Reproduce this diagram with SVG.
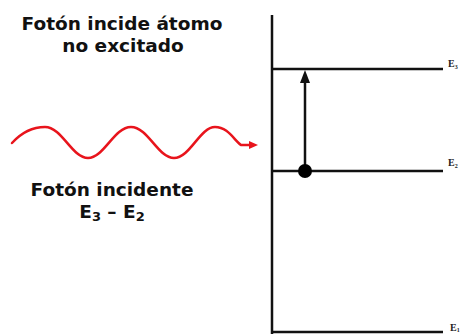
<svg xmlns="http://www.w3.org/2000/svg" width="464" height="334" viewBox="0 0 464 334">
<style>
.t{font-family:"DejaVu Sans",Verdana,sans-serif;font-weight:bold;font-size:18.5px;fill:#111;text-anchor:middle}
.lv{stroke:#111;stroke-width:2.5;fill:none}
.el{font-family:"Liberation Serif","Times New Roman",serif;font-weight:bold;font-size:10px;fill:#222}
.sub{font-size:6px}
</style>
<rect width="464" height="334" fill="#fff"/>
<g id="title">
<text class="t" x="122" y="30">Fotón incide átomo</text>
<text class="t" x="123" y="52">no excitado</text>
</g>
<g id="photon">
<path d="M12,143 C22,132 32,127 45,127 C62,127 72,158 88,158 C104,158 114,127 131,127 C148,127 158,158 174,158 C190,158 200,127 215,127 C228,127 234,140 241,145 L250,145" fill="none" stroke="#e8141c" stroke-width="2.5" stroke-linecap="round"/>
<path d="M249,141 L258,145 L249,149 Z" fill="#e8141c"/>
<text class="t" x="112" y="196">Fotón incidente</text>
<text class="t" x="112" y="218">E<tspan font-size="13" dy="3">3</tspan><tspan dy="-3"> – E</tspan><tspan font-size="13" dy="3">2</tspan></text>
</g>
<g id="levels">
<line class="lv" x1="272" y1="15" x2="272" y2="334"/>
<line class="lv" x1="272" y1="69" x2="443" y2="69"/>
<line class="lv" x1="272" y1="171" x2="443" y2="171"/>
<line class="lv" x1="272" y1="332" x2="443" y2="332"/>
<text class="el" x="448" y="67">E<tspan class="sub" dy="2">3</tspan></text>
<text class="el" x="448" y="166">E<tspan class="sub" dy="2">2</tspan></text>
<text class="el" x="450" y="331">E<tspan class="sub" dy="1">1</tspan></text>
</g>
<g id="connectors">
<line x1="305" y1="171" x2="305" y2="80" stroke="#111" stroke-width="2.5"/>
<path d="M300,83 L305,70 L310,83 Z" fill="#111"/>
</g>
<g id="electron">
<circle cx="305" cy="171" r="7" fill="#000"/>
</g>
</svg>
